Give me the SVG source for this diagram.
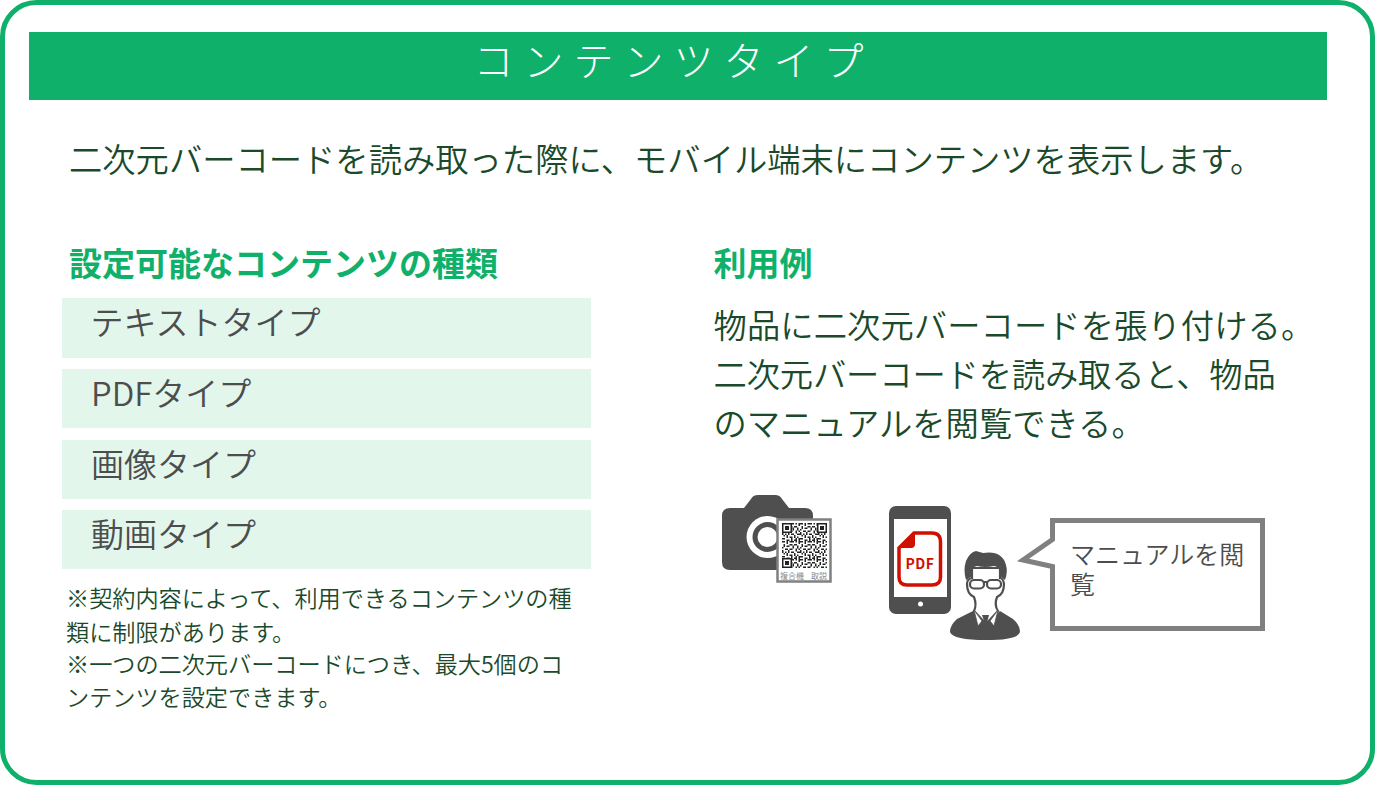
<svg xmlns="http://www.w3.org/2000/svg" width="1375" height="785" viewBox="0 0 1375 785">
<style>
text{font-family:"Noto Sans CJK JP","Noto Sans",sans-serif}
.body{font-size:33.3px;fill:#1a4a2a;font-weight:350}
.head{font-size:33px;font-weight:700;fill:#0fb16a}
.row{fill:#e2f6ec}
.item{font-size:33px;fill:#4d4d4d;font-weight:350}
.note{font-size:23.15px;fill:#1a4a2a;font-weight:350}
.ic{fill:#4f4f4f}
.line{fill:#fff;stroke:#4f4f4f;stroke-width:2.2}
</style>
<defs>
<pattern id="qr" x="782" y="523" width="18" height="18" patternUnits="userSpaceOnUse">
<rect width="18" height="18" fill="#fff"/>
<path fill="#222" d="M0 0h3v1.500H0zM4.500 0h1.500v3H4.500zM7.500 0h4.500v1.500H7.500zM13.500 0h1.500v1.500h-1.500zM16.500 0h1.500v3h-1.500zM1.500 3h1.500v3H1.500zM7.500 3h3v1.500h-3zM12 3h3v1.500h-3zM4.500 4.500h3v1.500h-3zM10.500 4.500h1.500v3h-1.500zM15 4.500h1.500v3H15zM0 6h1.500v1.500H0zM3 7.500h3v1.500H3zM7.500 7.500h3v1.500h-3zM13.500 7.500h1.500v3h-1.500zM16.500 7.500h1.500v1.500h-1.500zM0 9h1.500v3H0zM6 9h1.500v3H6zM3 10.500h1.500v1.500H3zM9 10.500h3v1.500H9zM15 10.500h3v1.500h-3zM1.500 12h1.500v1.500H1.500zM4.500 12h1.500v3H4.500zM7.500 13.500h3v1.500h-3zM12 12h1.500v3H12zM15 13.500h1.500v1.500H15zM0 15h3v1.500H0zM9 15h1.500v3H9zM13.500 15h1.500v1.500h-1.500zM16.500 15h1.500v3h-1.500zM4.500 16.500h3v1.500h-3zM12 16.500h3v1.500h-3z"/>
</pattern>
</defs>
<rect x="2.500" y="2.500" width="1370" height="780" rx="34" fill="#fff" stroke="#0fb16a" stroke-width="5"/>
<g id="title">
<rect x="29" y="32" width="1298" height="68" fill="#0fb16a"/>
<text x="473.500" y="76" font-size="40" fill="#fff" letter-spacing="10" font-weight="300">コンテンツタイプ</text>
</g>
<g id="intro"><text class="body" x="69" y="172">二次元バーコードを読み取った際に、モバイル端末にコンテンツを表示します。</text></g>
<g id="content-types">
<text class="head" x="69" y="276">設定可能なコンテンツの種類</text>
<rect class="row" x="62" y="298" width="529" height="60"/>
<rect class="row" x="62" y="369" width="529" height="59"/>
<rect class="row" x="62" y="440" width="529" height="59"/>
<rect class="row" x="62" y="510" width="529" height="59"/>
<text class="item" x="90.500" y="335">テキストタイプ</text>
<text class="item" x="91" y="406">PDFタイプ</text>
<text class="item" x="91" y="477">画像タイプ</text>
<text class="item" x="91" y="547">動画タイプ</text>
<text class="note" x="66" y="607">※契約内容によって、利用できるコンテンツの種</text>
<text class="note" x="66" y="641">類に制限があります。</text>
<text class="note" x="66" y="673">※一つの二次元バーコードにつき、最大5個のコ</text>
<text class="note" x="66" y="706">ンテンツを設定できます。</text>
</g>
<g id="usage">
<text class="head" x="713.500" y="276">利用例</text>
<text class="body" x="713.500" y="338" letter-spacing=".08">物品に二次元バーコードを張り付ける。</text>
<text class="body" x="713.500" y="387" letter-spacing="-.15">二次元バーコードを読み取ると、物品</text>
<text class="body" x="713.500" y="436">のマニュアルを閲覧できる。</text>
</g>
<g id="camera">
<path class="ic" d="M730 508H744L751 499Q753 495 758 495H775Q780 495 782 499L789 508H805Q813 508 813 516V562Q813 570 805 570H730Q722 570 722 562V516Q722 508 730 508Z"/>
<circle cx="767.500" cy="537" r="21" fill="#fff"/>
<circle cx="767.500" cy="537" r="15" class="ic"/>
<circle cx="767.500" cy="537" r="10" fill="#fff"/>
<rect x="777.500" y="519.500" width="53" height="62" fill="#fff" stroke="#808080" stroke-width="2.500"/>
<rect x="782" y="523" width="45" height="45" fill="url(#qr)"/>
<g fill="#222"><rect x="782" y="523" width="10" height="10"/><rect x="817" y="523" width="10" height="10"/><rect x="782" y="558" width="10" height="10"/></g>
<g fill="#fff"><rect x="783.500" y="524.500" width="7" height="7"/><rect x="818.500" y="524.500" width="7" height="7"/><rect x="783.500" y="559.500" width="7" height="7"/></g>
<g fill="#222"><rect x="785" y="526" width="4" height="4"/><rect x="820" y="526" width="4" height="4"/><rect x="785" y="561" width="4" height="4"/></g>
<text x="780" y="578.500" font-size="8" fill="#888">複合機</text>
<text x="811" y="578.500" font-size="8" fill="#888">取説</text>
</g>
<g id="phone">
<rect x="889" y="506" width="62" height="108" rx="7" class="ic"/>
<rect x="894" y="519" width="53" height="78" fill="#fff"/>
<circle cx="920.500" cy="604" r="2.500" fill="#fff"/>
<path d="M914 533H932Q940.500 533 940.500 542V577Q940.500 585 932 585H907Q899 585 899 577V548Z" fill="#fff" stroke="#d10f00" stroke-width="3.500"/>
<path d="M915 532V544Q915 548 911 548H898Z" fill="#d10f00"/>
<text x="920" y="568.500" font-size="14" font-weight="700" fill="#d10f00" text-anchor="middle" letter-spacing=".5">PDF</text>
</g>
<g id="person">
<path class="ic" d="M973 611L957 619Q950 625 950 632Q953 640 986 640Q1018 640 1020 632Q1020 625 1013 619L1000 611L986 623Z"/>
<path class="line" d="M974 611L986 624L998 611Q994 605 997 597Q1004 594 1004 584Q1003 578 1000 578V568H972V578Q967 579 967 584Q967 594 974 597Q977 605 974 611Z"/>
<path fill="#fff" d="M974 610L982 621L978 626ZM998 610L990 621L994 626Z" stroke="#4f4f4f" stroke-width=".8"/>
<path class="ic" d="M982 615H989L987.500 621L989.500 629L985.500 633L982 629L984 621Z"/>
<path class="ic" d="M966 580Q963 570 966 561Q970 552 976 551L983 553Q1002 550 1006 565Q1008 572 1005 580L1001 577V572Q1000 567 994 566Q985 568 977 566Q972 567 971 572V577Z"/>
<rect x="970" y="580" width="14" height="8.500" rx="4" class="line"/>
<rect x="987" y="580" width="14" height="8.500" rx="4" class="line"/>
<path d="M984 582h3" stroke="#4f4f4f" stroke-width="2"/>
</g>
<g id="callout">
<path d="M1052.500 520.500H1262.500V628.500H1052.500V566.500L1023 560L1052.500 539.500Z" fill="#fff" stroke="#808080" stroke-width="5"/>
<text font-size="25" fill="#4d4d4d" font-weight="350"><tspan x="1070" y="564">マニュアルを閲</tspan><tspan x="1070" y="594">覧</tspan></text>
</g>
</svg>
